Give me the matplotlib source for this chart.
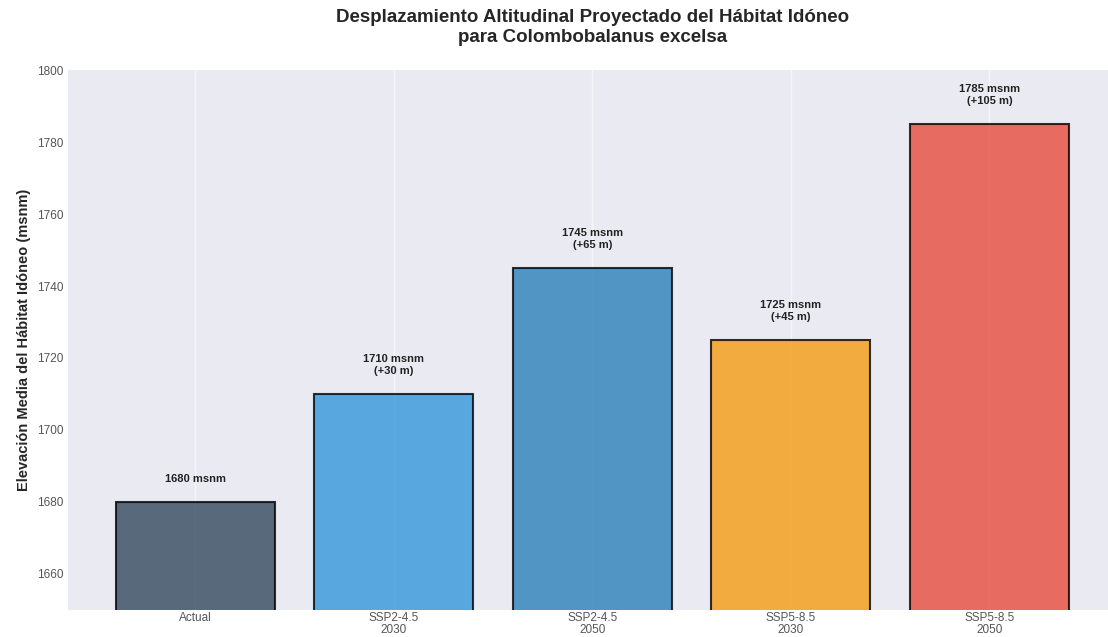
import numpy as np
import matplotlib
matplotlib.use("Agg")
import matplotlib.pyplot as plt

plt.style.use("seaborn-v0_8-darkgrid")
plt.rcParams['font.family'] = ['Liberation Sans', 'DejaVu Sans']

escenarios = ["Actual", "SSP2-4.5\n2030", "SSP2-4.5\n2050", "SSP5-8.5\n2030", "SSP5-8.5\n2050"]
elevacion = [1680, 1710, 1745, 1725, 1785]
colores = ['#34495e', '#3498db', '#2980b9', '#f39c12', '#e74c3c']

fig = plt.figure(figsize=(11.08, 6.37), dpi=100)
ax = fig.add_axes([0.0614, 0.0424, 0.9463, 0.8477])

x = np.arange(len(escenarios))
bars = ax.bar(x, elevacion, width=0.8, color=colores, edgecolor='black',
              linewidth=1.5, alpha=0.8)

base = elevacion[0]
for b, val in zip(bars, elevacion):
    if val == base:
        txt = f"{val} msnm"
    else:
        txt = f"{val} msnm\n(+{val - base} m)"
    ax.text(b.get_x() + b.get_width() / 2, val + 5, txt, ha='center', va='bottom',
            fontsize=8, fontweight='bold', color='#222222', linespacing=1.3)

ax.set_xticks(x)
ax.set_xticklabels(escenarios, fontsize=8.5, color='#555555', linespacing=1.0)
ax.tick_params(axis='x', pad=1.5)
ax.tick_params(axis='y', labelsize=8.5, labelcolor='#555555')
ax.set_ylim(1650, 1800)
ax.set_xlim(-0.64, 4.64)
ax.set_ylabel("Elevación Media del Hábitat Idóneo (msnm)", fontsize=10.5, fontweight='bold')
ax.set_title("Desplazamiento Altitudinal Proyectado del Hábitat Idóneo\npara Colombobalanus excelsa",
             fontsize=13.5, fontweight='bold', pad=20, linespacing=1.25)
ax.yaxis.grid(False)
ax.xaxis.grid(True, color='white', alpha=0.6, linewidth=1)

fig.savefig("out.png", dpi=100)
